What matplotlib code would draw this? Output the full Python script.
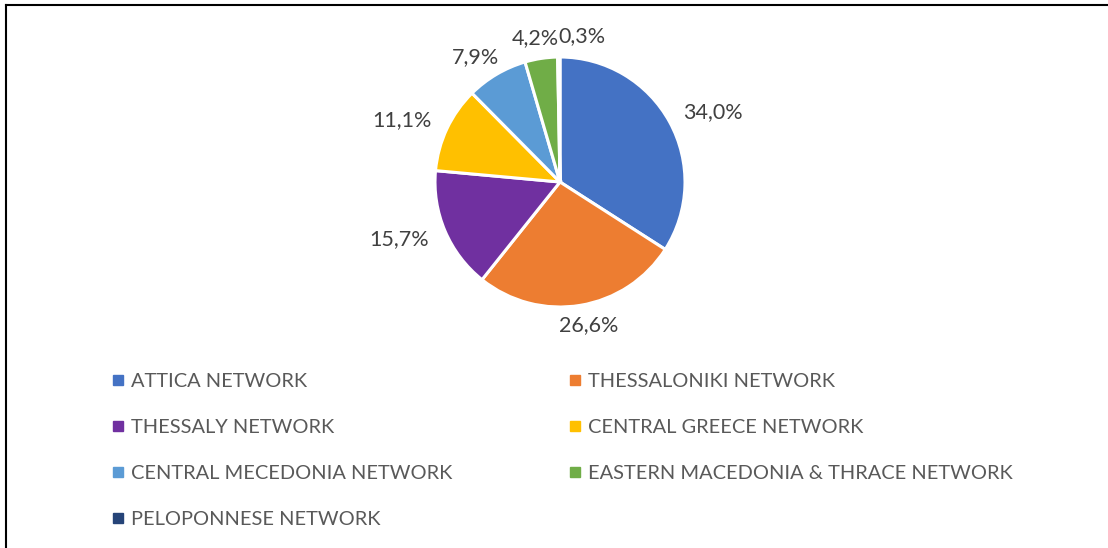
import matplotlib
matplotlib.use("Agg")
import matplotlib.pyplot as plt
import numpy as np
from matplotlib.lines import Line2D

# Share of each regional network (percent)
networks = [
    "ATTICA NETWORK",
    "THESSALONIKI NETWORK",
    "THESSALY NETWORK",
    "CENTRAL GREECE NETWORK",
    "CENTRAL MECEDONIA NETWORK",
    "EASTERN MACEDONIA & THRACE NETWORK",
    "PELOPONNESE NETWORK",
]
shares = [34.0, 26.6, 15.7, 11.1, 7.9, 4.2, 0.3]
colors = ["#4472C4", "#ED7D31", "#7030A0", "#FFC000", "#5B9BD5", "#70AD47", "#264478"]

plt.rcParams["font.family"] = ["Lato", "DejaVu Sans"]

W, H = 1108, 548
fig = plt.figure(figsize=(W / 100, H / 100), dpi=100)

# Pie axes sized so that one data unit equals the pie radius in pixels
R_PX = 125
cx, cy = 560, 182
ax = fig.add_axes([(cx - R_PX) / W, (H - cy - R_PX) / H, 2 * R_PX / W, 2 * R_PX / H])
wedges, _ = ax.pie(
    shares, colors=colors, startangle=90, counterclock=False, radius=1,
    wedgeprops=dict(edgecolor="white", linewidth=2.2),
)
ax.set_xlim(-1, 1)
ax.set_ylim(-1, 1)
ax.set_aspect("equal")
ax.axis("off")

# Percentage labels just outside each wedge, nudged sideways if they collide
fig.canvas.draw()
renderer = fig.canvas.get_renderer()
unit = 1.0 / R_PX
gap = 0.10
placed = []
for w, v in zip(wedges, shares):
    theta = np.deg2rad((w.theta1 + w.theta2) / 2)
    dx, dy = np.cos(theta), np.sin(theta)
    t = ax.text(0, 0, f"{v:.1f}".replace(".", ",") + "%", ha="center", va="center",
                fontsize=15.5, color="#404040")
    bb = t.get_window_extent(renderer)
    hw, hh = bb.width / 2 * unit, bb.height / 2 * unit
    x = (1 + gap) * dx + dx * hw * 1.25
    y = (1 + gap) * dy + dy * hh * 0.8
    for (px, py, phw, phh) in placed:
        if abs(y - py) < (hh + phh) and abs(x - px) < (hw + phw):
            x = px + phw + hw
    t.set_position((x, y))
    placed.append((x, y, hw, hh))

# Two-column legend, filled row by row
handles = [Line2D([], [], marker="s", markersize=6.5, color=c, linestyle="none") for c in colors]
left_idx = [0, 2, 4, 6]
right_idx = [1, 3, 5]
leg_kw = dict(loc="upper left", frameon=False, borderpad=0, borderaxespad=0,
              fontsize=14.4, labelcolor="#595959", handlelength=0.7, handletextpad=0.3,
              labelspacing=1.45)
top = 373
fig.legend([handles[i] for i in left_idx], [networks[i] for i in left_idx],
           bbox_to_anchor=(111 / W, 1 - top / H), **leg_kw)
fig.legend([handles[i] for i in right_idx], [networks[i] for i in right_idx],
           bbox_to_anchor=(568 / W, 1 - top / H), **leg_kw)

# Frame lines along the top and left edges
fig.add_artist(Line2D([5.5 / W, 1.0], [1 - 4.5 / H, 1 - 4.5 / H], color="black", lw=1.5,
                      transform=fig.transFigure))
fig.add_artist(Line2D([5.5 / W, 5.5 / W], [1 - 4.5 / H, 0], color="black", lw=1.5,
                      transform=fig.transFigure))

fig.savefig("out.png", dpi=100)
